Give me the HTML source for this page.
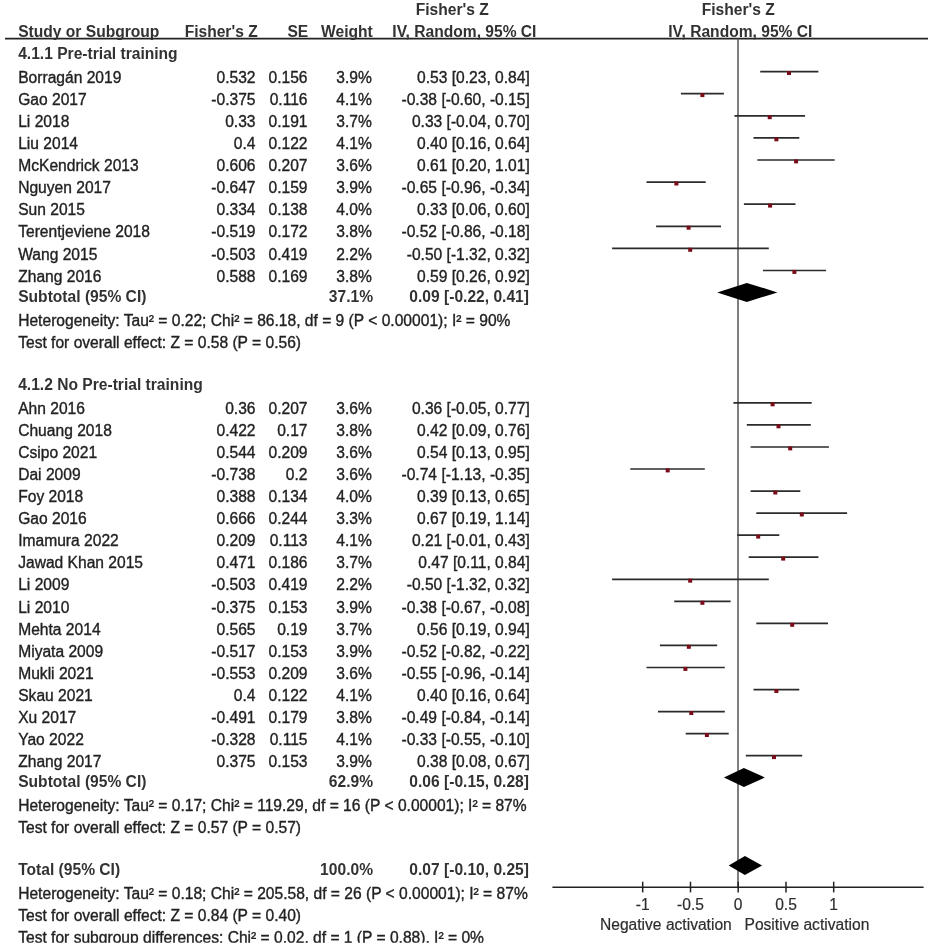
<!DOCTYPE html>
<html><head><meta charset="utf-8"><title>Forest plot</title>
<style>html,body{margin:0;padding:0;background:#fff;} svg{display:block;}</style>
</head><body>
<svg width="928" height="951" viewBox="0 0 928 951">
<style>
text { font-family: "Liberation Sans", Arial, sans-serif; font-size: 15.6px; fill: #222; stroke: #222; stroke-width: 0.35px; }
text[font-weight] { stroke-width: 0; fill: #323232; }
.ci { stroke: #2b2b2b; stroke-width: 1.7; }
.sq { fill: #7a0c1a; }
.ax { stroke: #222; stroke-width: 1.5; }
.al { fill: #2e2e2e; stroke: #2e2e2e; stroke-width: 0.2px; }
</style>
<rect width="928" height="951" fill="#fff"/>
<line x1="5" x2="928" y1="38.6" y2="38.6" stroke="#222" stroke-width="1.6"/>
<line x1="738" x2="738" y1="38.6" y2="887.2" stroke="#555" stroke-width="1.5"/>
<text x="452.3" y="15.1" text-anchor="middle" font-weight="bold">Fisher&#x27;s Z</text>
<text x="738.3" y="15.1" text-anchor="middle" font-weight="bold">Fisher&#x27;s Z</text>
<text x="18.2" y="36.8" font-weight="bold">Study or Subgroup</text>
<text x="257.7" y="36.8" text-anchor="end" font-weight="bold">Fisher&#x27;s Z</text>
<text x="308.2" y="36.8" text-anchor="end" font-weight="bold">SE</text>
<text x="372.8" y="36.8" text-anchor="end" font-weight="bold">Weight</text>
<text x="464.4" y="36.8" text-anchor="middle" font-weight="bold">IV, Random, 95% CI</text>
<text x="740.3" y="36.8" text-anchor="middle" font-weight="bold">IV, Random, 95% CI</text>
<text x="18.2" y="59.4" font-weight="bold">4.1.1 Pre-trial training</text>
<text x="18.2" y="82.7">Borragán 2019</text>
<text x="255.5" y="82.7" text-anchor="end">0.532</text>
<text x="307.5" y="82.7" text-anchor="end">0.156</text>
<text x="371.8" y="82.7" text-anchor="end">3.9%</text>
<text x="529.8" y="82.7" text-anchor="end">0.53 [0.23, 0.84]</text>
<text x="18.2" y="104.8">Gao 2017</text>
<text x="255.5" y="104.8" text-anchor="end">-0.375</text>
<text x="307.5" y="104.8" text-anchor="end">0.116</text>
<text x="371.8" y="104.8" text-anchor="end">4.1%</text>
<text x="529.8" y="104.8" text-anchor="end">-0.38 [-0.60, -0.15]</text>
<text x="18.2" y="126.9">Li 2018</text>
<text x="255.5" y="126.9" text-anchor="end">0.33</text>
<text x="307.5" y="126.9" text-anchor="end">0.191</text>
<text x="371.8" y="126.9" text-anchor="end">3.7%</text>
<text x="529.8" y="126.9" text-anchor="end">0.33 [-0.04, 0.70]</text>
<text x="18.2" y="149.0">Liu 2014</text>
<text x="255.5" y="149.0" text-anchor="end">0.4</text>
<text x="307.5" y="149.0" text-anchor="end">0.122</text>
<text x="371.8" y="149.0" text-anchor="end">4.1%</text>
<text x="529.8" y="149.0" text-anchor="end">0.40 [0.16, 0.64]</text>
<text x="18.2" y="171.1">McKendrick 2013</text>
<text x="255.5" y="171.1" text-anchor="end">0.606</text>
<text x="307.5" y="171.1" text-anchor="end">0.207</text>
<text x="371.8" y="171.1" text-anchor="end">3.6%</text>
<text x="529.8" y="171.1" text-anchor="end">0.61 [0.20, 1.01]</text>
<text x="18.2" y="193.2">Nguyen 2017</text>
<text x="255.5" y="193.2" text-anchor="end">-0.647</text>
<text x="307.5" y="193.2" text-anchor="end">0.159</text>
<text x="371.8" y="193.2" text-anchor="end">3.9%</text>
<text x="529.8" y="193.2" text-anchor="end">-0.65 [-0.96, -0.34]</text>
<text x="18.2" y="215.3">Sun 2015</text>
<text x="255.5" y="215.3" text-anchor="end">0.334</text>
<text x="307.5" y="215.3" text-anchor="end">0.138</text>
<text x="371.8" y="215.3" text-anchor="end">4.0%</text>
<text x="529.8" y="215.3" text-anchor="end">0.33 [0.06, 0.60]</text>
<text x="18.2" y="237.4">Terentjeviene 2018</text>
<text x="255.5" y="237.4" text-anchor="end">-0.519</text>
<text x="307.5" y="237.4" text-anchor="end">0.172</text>
<text x="371.8" y="237.4" text-anchor="end">3.8%</text>
<text x="529.8" y="237.4" text-anchor="end">-0.52 [-0.86, -0.18]</text>
<text x="18.2" y="259.5">Wang 2015</text>
<text x="255.5" y="259.5" text-anchor="end">-0.503</text>
<text x="307.5" y="259.5" text-anchor="end">0.419</text>
<text x="371.8" y="259.5" text-anchor="end">2.2%</text>
<text x="529.8" y="259.5" text-anchor="end">-0.50 [-1.32, 0.32]</text>
<text x="18.2" y="281.6">Zhang 2016</text>
<text x="255.5" y="281.6" text-anchor="end">0.588</text>
<text x="307.5" y="281.6" text-anchor="end">0.169</text>
<text x="371.8" y="281.6" text-anchor="end">3.8%</text>
<text x="529.8" y="281.6" text-anchor="end">0.59 [0.26, 0.92]</text>
<text x="18.2" y="301.5" font-weight="bold">Subtotal (95% CI)</text>
<text x="373.0" y="301.5" text-anchor="end" font-weight="bold">37.1%</text>
<text x="529.0" y="301.5" text-anchor="end" font-weight="bold">0.09 [-0.22, 0.41]</text>
<text x="18.2" y="325.8">Heterogeneity: Tau² = 0.22; Chi² = 86.18, df = 9 (P &lt; 0.00001); I² = 90%</text>
<text x="18.2" y="347.8">Test for overall effect: Z = 0.58 (P = 0.56)</text>
<text x="18.2" y="390.3" font-weight="bold">4.1.2 No Pre-trial training</text>
<text x="18.2" y="414.0">Ahn 2016</text>
<text x="255.5" y="414.0" text-anchor="end">0.36</text>
<text x="307.5" y="414.0" text-anchor="end">0.207</text>
<text x="371.8" y="414.0" text-anchor="end">3.6%</text>
<text x="529.8" y="414.0" text-anchor="end">0.36 [-0.05, 0.77]</text>
<text x="18.2" y="436.1">Chuang 2018</text>
<text x="255.5" y="436.1" text-anchor="end">0.422</text>
<text x="307.5" y="436.1" text-anchor="end">0.17</text>
<text x="371.8" y="436.1" text-anchor="end">3.8%</text>
<text x="529.8" y="436.1" text-anchor="end">0.42 [0.09, 0.76]</text>
<text x="18.2" y="458.1">Csipo 2021</text>
<text x="255.5" y="458.1" text-anchor="end">0.544</text>
<text x="307.5" y="458.1" text-anchor="end">0.209</text>
<text x="371.8" y="458.1" text-anchor="end">3.6%</text>
<text x="529.8" y="458.1" text-anchor="end">0.54 [0.13, 0.95]</text>
<text x="18.2" y="480.1">Dai 2009</text>
<text x="255.5" y="480.1" text-anchor="end">-0.738</text>
<text x="307.5" y="480.1" text-anchor="end">0.2</text>
<text x="371.8" y="480.1" text-anchor="end">3.6%</text>
<text x="529.8" y="480.1" text-anchor="end">-0.74 [-1.13, -0.35]</text>
<text x="18.2" y="502.2">Foy 2018</text>
<text x="255.5" y="502.2" text-anchor="end">0.388</text>
<text x="307.5" y="502.2" text-anchor="end">0.134</text>
<text x="371.8" y="502.2" text-anchor="end">4.0%</text>
<text x="529.8" y="502.2" text-anchor="end">0.39 [0.13, 0.65]</text>
<text x="18.2" y="524.2">Gao 2016</text>
<text x="255.5" y="524.2" text-anchor="end">0.666</text>
<text x="307.5" y="524.2" text-anchor="end">0.244</text>
<text x="371.8" y="524.2" text-anchor="end">3.3%</text>
<text x="529.8" y="524.2" text-anchor="end">0.67 [0.19, 1.14]</text>
<text x="18.2" y="546.3">Imamura 2022</text>
<text x="255.5" y="546.3" text-anchor="end">0.209</text>
<text x="307.5" y="546.3" text-anchor="end">0.113</text>
<text x="371.8" y="546.3" text-anchor="end">4.1%</text>
<text x="529.8" y="546.3" text-anchor="end">0.21 [-0.01, 0.43]</text>
<text x="18.2" y="568.4">Jawad Khan 2015</text>
<text x="255.5" y="568.4" text-anchor="end">0.471</text>
<text x="307.5" y="568.4" text-anchor="end">0.186</text>
<text x="371.8" y="568.4" text-anchor="end">3.7%</text>
<text x="529.8" y="568.4" text-anchor="end">0.47 [0.11, 0.84]</text>
<text x="18.2" y="590.4">Li 2009</text>
<text x="255.5" y="590.4" text-anchor="end">-0.503</text>
<text x="307.5" y="590.4" text-anchor="end">0.419</text>
<text x="371.8" y="590.4" text-anchor="end">2.2%</text>
<text x="529.8" y="590.4" text-anchor="end">-0.50 [-1.32, 0.32]</text>
<text x="18.2" y="612.5">Li 2010</text>
<text x="255.5" y="612.5" text-anchor="end">-0.375</text>
<text x="307.5" y="612.5" text-anchor="end">0.153</text>
<text x="371.8" y="612.5" text-anchor="end">3.9%</text>
<text x="529.8" y="612.5" text-anchor="end">-0.38 [-0.67, -0.08]</text>
<text x="18.2" y="634.5">Mehta 2014</text>
<text x="255.5" y="634.5" text-anchor="end">0.565</text>
<text x="307.5" y="634.5" text-anchor="end">0.19</text>
<text x="371.8" y="634.5" text-anchor="end">3.7%</text>
<text x="529.8" y="634.5" text-anchor="end">0.56 [0.19, 0.94]</text>
<text x="18.2" y="656.5">Miyata 2009</text>
<text x="255.5" y="656.5" text-anchor="end">-0.517</text>
<text x="307.5" y="656.5" text-anchor="end">0.153</text>
<text x="371.8" y="656.5" text-anchor="end">3.9%</text>
<text x="529.8" y="656.5" text-anchor="end">-0.52 [-0.82, -0.22]</text>
<text x="18.2" y="678.6">Mukli 2021</text>
<text x="255.5" y="678.6" text-anchor="end">-0.553</text>
<text x="307.5" y="678.6" text-anchor="end">0.209</text>
<text x="371.8" y="678.6" text-anchor="end">3.6%</text>
<text x="529.8" y="678.6" text-anchor="end">-0.55 [-0.96, -0.14]</text>
<text x="18.2" y="700.7">Skau 2021</text>
<text x="255.5" y="700.7" text-anchor="end">0.4</text>
<text x="307.5" y="700.7" text-anchor="end">0.122</text>
<text x="371.8" y="700.7" text-anchor="end">4.1%</text>
<text x="529.8" y="700.7" text-anchor="end">0.40 [0.16, 0.64]</text>
<text x="18.2" y="722.7">Xu 2017</text>
<text x="255.5" y="722.7" text-anchor="end">-0.491</text>
<text x="307.5" y="722.7" text-anchor="end">0.179</text>
<text x="371.8" y="722.7" text-anchor="end">3.8%</text>
<text x="529.8" y="722.7" text-anchor="end">-0.49 [-0.84, -0.14]</text>
<text x="18.2" y="744.8">Yao 2022</text>
<text x="255.5" y="744.8" text-anchor="end">-0.328</text>
<text x="307.5" y="744.8" text-anchor="end">0.115</text>
<text x="371.8" y="744.8" text-anchor="end">4.1%</text>
<text x="529.8" y="744.8" text-anchor="end">-0.33 [-0.55, -0.10]</text>
<text x="18.2" y="766.8">Zhang 2017</text>
<text x="255.5" y="766.8" text-anchor="end">0.375</text>
<text x="307.5" y="766.8" text-anchor="end">0.153</text>
<text x="371.8" y="766.8" text-anchor="end">3.9%</text>
<text x="529.8" y="766.8" text-anchor="end">0.38 [0.08, 0.67]</text>
<text x="18.2" y="786.6" font-weight="bold">Subtotal (95% CI)</text>
<text x="373.0" y="786.6" text-anchor="end" font-weight="bold">62.9%</text>
<text x="529.0" y="786.6" text-anchor="end" font-weight="bold">0.06 [-0.15, 0.28]</text>
<text x="18.2" y="810.9">Heterogeneity: Tau² = 0.17; Chi² = 119.29, df = 16 (P &lt; 0.00001); I² = 87%</text>
<text x="18.2" y="832.9">Test for overall effect: Z = 0.57 (P = 0.57)</text>
<text x="18.2" y="874.6" font-weight="bold">Total (95% CI)</text>
<text x="373.0" y="874.6" text-anchor="end" font-weight="bold">100.0%</text>
<text x="529.0" y="874.6" text-anchor="end" font-weight="bold">0.07 [-0.10, 0.25]</text>
<text x="18.2" y="899.2">Heterogeneity: Tau² = 0.18; Chi² = 205.58, df = 26 (P &lt; 0.00001); I² = 87%</text>
<text x="18.2" y="920.8">Test for overall effect: Z = 0.84 (P = 0.40)</text>
<text x="18.2" y="943.1">Test for subgroup differences: Chi² = 0.02, df = 1 (P = 0.88), I² = 0%</text>
<line x1="760.2" x2="818.4" y1="71.6" y2="71.6" class="ci"/>
<rect x="787.0" y="71.0" width="4" height="4" class="sq"/>
<line x1="680.9" x2="723.9" y1="93.7" y2="93.7" class="ci"/>
<rect x="700.4" y="93.1" width="4" height="4" class="sq"/>
<line x1="734.4" x2="805.1" y1="115.8" y2="115.8" class="ci"/>
<rect x="767.7" y="115.2" width="4" height="4" class="sq"/>
<line x1="753.5" x2="799.3" y1="137.9" y2="137.9" class="ci"/>
<rect x="774.4" y="137.3" width="4" height="4" class="sq"/>
<line x1="757.3" x2="834.7" y1="160.0" y2="160.0" class="ci"/>
<rect x="794.1" y="159.4" width="4" height="4" class="sq"/>
<line x1="646.5" x2="705.7" y1="182.1" y2="182.1" class="ci"/>
<rect x="674.4" y="181.5" width="4" height="4" class="sq"/>
<line x1="743.9" x2="795.5" y1="204.2" y2="204.2" class="ci"/>
<rect x="768.1" y="203.6" width="4" height="4" class="sq"/>
<line x1="656.1" x2="721.0" y1="226.3" y2="226.3" class="ci"/>
<rect x="686.6" y="225.7" width="4" height="4" class="sq"/>
<line x1="612.1" x2="768.8" y1="248.4" y2="248.4" class="ci"/>
<rect x="688.2" y="247.8" width="4" height="4" class="sq"/>
<line x1="763.0" x2="826.1" y1="270.5" y2="270.5" class="ci"/>
<rect x="792.4" y="269.9" width="4" height="4" class="sq"/>
<polygon points="717.2,292.4 746.8,282.9 777.4,292.4 746.8,301.9" fill="#000"/>
<line x1="733.4" x2="811.7" y1="402.9" y2="402.9" class="ci"/>
<rect x="770.6" y="402.3" width="4" height="4" class="sq"/>
<line x1="746.8" x2="810.8" y1="424.9" y2="424.9" class="ci"/>
<rect x="776.5" y="424.3" width="4" height="4" class="sq"/>
<line x1="750.6" x2="828.9" y1="447.0" y2="447.0" class="ci"/>
<rect x="788.2" y="446.4" width="4" height="4" class="sq"/>
<line x1="630.3" x2="704.8" y1="469.0" y2="469.0" class="ci"/>
<rect x="665.7" y="468.4" width="4" height="4" class="sq"/>
<line x1="750.6" x2="800.3" y1="491.1" y2="491.1" class="ci"/>
<rect x="773.3" y="490.5" width="4" height="4" class="sq"/>
<line x1="756.3" x2="847.1" y1="513.1" y2="513.1" class="ci"/>
<rect x="799.8" y="512.5" width="4" height="4" class="sq"/>
<line x1="737.2" x2="779.3" y1="535.2" y2="535.2" class="ci"/>
<rect x="756.2" y="534.6" width="4" height="4" class="sq"/>
<line x1="748.7" x2="818.4" y1="557.2" y2="557.2" class="ci"/>
<rect x="781.2" y="556.6" width="4" height="4" class="sq"/>
<line x1="612.1" x2="768.8" y1="579.3" y2="579.3" class="ci"/>
<rect x="688.2" y="578.7" width="4" height="4" class="sq"/>
<line x1="674.2" x2="730.6" y1="601.4" y2="601.4" class="ci"/>
<rect x="700.4" y="600.8" width="4" height="4" class="sq"/>
<line x1="756.3" x2="828.0" y1="623.4" y2="623.4" class="ci"/>
<rect x="790.2" y="622.8" width="4" height="4" class="sq"/>
<line x1="659.9" x2="717.2" y1="645.4" y2="645.4" class="ci"/>
<rect x="686.8" y="644.8" width="4" height="4" class="sq"/>
<line x1="646.5" x2="724.8" y1="667.5" y2="667.5" class="ci"/>
<rect x="683.4" y="666.9" width="4" height="4" class="sq"/>
<line x1="753.5" x2="799.3" y1="689.6" y2="689.6" class="ci"/>
<rect x="774.4" y="689.0" width="4" height="4" class="sq"/>
<line x1="658.0" x2="724.8" y1="711.6" y2="711.6" class="ci"/>
<rect x="689.3" y="711.0" width="4" height="4" class="sq"/>
<line x1="685.7" x2="728.7" y1="733.6" y2="733.6" class="ci"/>
<rect x="704.9" y="733.0" width="4" height="4" class="sq"/>
<line x1="745.8" x2="802.2" y1="755.7" y2="755.7" class="ci"/>
<rect x="772.0" y="755.1" width="4" height="4" class="sq"/>
<polygon points="723.9,777.5 743.9,768.0 764.9,777.5 743.9,787.0" fill="#000"/>
<polygon points="728.7,865.5 744.9,856.0 762.1,865.5 744.9,875.0" fill="#000"/>
<line x1="552.4" x2="923.6" y1="887.2" y2="887.2" class="ax"/>
<line x1="642.7" x2="642.7" y1="881.7" y2="892.4000000000001" class="ax"/>
<text x="642.7" y="910.2" text-anchor="middle" class="al">-1</text>
<line x1="690.5" x2="690.5" y1="881.7" y2="892.4000000000001" class="ax"/>
<text x="690.5" y="910.2" text-anchor="middle" class="al">-0.5</text>
<line x1="738.2" x2="738.2" y1="881.7" y2="892.4000000000001" class="ax"/>
<text x="738.2" y="910.2" text-anchor="middle" class="al">0</text>
<line x1="786.0" x2="786.0" y1="881.7" y2="892.4000000000001" class="ax"/>
<text x="786.0" y="910.2" text-anchor="middle" class="al">0.5</text>
<line x1="833.7" x2="833.7" y1="881.7" y2="892.4000000000001" class="ax"/>
<text x="833.7" y="910.2" text-anchor="middle" class="al">1</text>
<text x="600" y="929.5" class="al">Negative activation</text>
<text x="744.5" y="929.5" class="al">Positive activation</text>
<rect x="0" y="942.8" width="928" height="8.2" fill="#fff"/>
</svg>
</body></html>
